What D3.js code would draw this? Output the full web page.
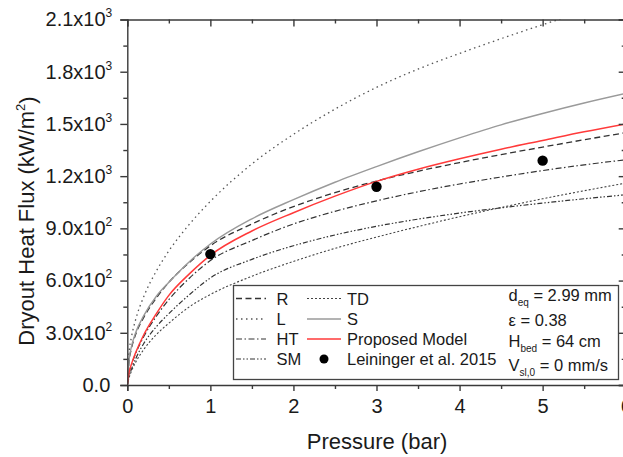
<!DOCTYPE html>
<html>
<head>
<meta charset="utf-8">
<script src="https://cdn.jsdelivr.net/npm/d3@7"></script>
<style>
  html, body { margin: 0; padding: 0; background: #fff; }
  svg { display: block; }
  text { font-family: Arial, "Liberation Sans", sans-serif; fill: #1a1a1a; }
</style>
</head>
<body>
<div id="chart"></div>
<script>
// Pressure grid (bar) shared by all correlation curves
const pressure = [0, 0.02, 0.05, 0.1, 0.2, 0.35, 0.5, 0.75, 1, 1.5, 2, 2.5, 3, 3.5, 4, 4.5, 5, 5.5, 6];

// Dryout heat flux (kW/m^2) for each model
const fluxR        = [0, 130, 210, 290, 390, 500, 590, 705, 800, 925, 1025, 1105, 1172, 1228, 1278, 1324, 1367, 1409, 1450];
const fluxL        = [0, 180, 275, 375, 510, 655, 770, 925, 1055, 1270, 1440, 1585, 1710, 1815, 1905, 1990, 2070, 2145, 2215];
const fluxHT       = [0, 65, 115, 180, 280, 395, 490, 615, 715, 830, 925, 998, 1058, 1110, 1155, 1195, 1232, 1265, 1294];
const fluxSM       = [0, 50, 90, 150, 240, 335, 410, 520, 615, 722, 800, 862, 912, 953, 988, 1018, 1045, 1070, 1093];
const fluxTD       = [0, 40, 80, 130, 205, 290, 355, 450, 520, 625, 710, 785, 850, 910, 967, 1020, 1070, 1116, 1160];
const fluxS        = [0, 140, 220, 300, 400, 510, 590, 710, 810, 955, 1065, 1165, 1255, 1340, 1420, 1495, 1560, 1620, 1675];
const fluxProposed = [0, 70, 120, 185, 290, 410, 515, 640, 745, 885, 990, 1085, 1170, 1240, 1300, 1355, 1405, 1455, 1500];

// Experimental data
const expPressure = [1, 3, 5];
const expFlux     = [752, 1139, 1289];

// Axis ticks
const xTickValues   = [0, 1, 2, 3, 4, 5, 6];
const xTickLabels   = ["0", "1", "2", "3", "4", "5", "6"];
const yTickValues   = [0, 300, 600, 900, 1200, 1500, 1800, 2100];
const yTickMantissa = ["0.0", "3.0", "6.0", "9.0", "1.2", "1.5", "1.8", "2.1"];
const yTickExponent = ["", "2", "2", "2", "3", "3", "3", "3"];

const W = 623, H = 457;
const x = d3.scaleLinear().domain([0, 6]).range([127.3, 625.7]);
const y = d3.scaleLinear().domain([0, 2100]).range([385, 19.5]);

const svg = d3.select("#chart").append("svg").attr("width", W).attr("height", H);

svg.append("defs").append("clipPath").attr("id", "plotClip")
  .append("rect")
  .attr("x", x(0)).attr("y", y(2100))
  .attr("width", x(6) - x(0)).attr("height", y(0) - y(2100));

// Series styles
const series = [
  { name: "R",  values: fluxR,  color: "#333", width: 1.3, dash: "6,3.5" },
  { name: "L",  values: fluxL,  color: "#555", width: 1.3, dash: "1.5,3.5" },
  { name: "HT", values: fluxHT, color: "#333", width: 1.2, dash: "6,2.5,1.5,2.5" },
  { name: "SM", values: fluxSM, color: "#333", width: 1.2, dash: "5,2,1.5,2,1.5,2" },
  { name: "TD", values: fluxTD, color: "#444", width: 1.1, dash: "2,2" },
  { name: "S",  values: fluxS,  color: "#9a9a9a", width: 1.4, dash: null },
  { name: "Proposed Model", values: fluxProposed, color: "#ff3a3a", width: 1.5, dash: null }
];

const line = d3.line()
  .x(d => x(d[0]))
  .y(d => y(d[1]))
  .curve(d3.curveMonotoneX);

const plot = svg.append("g").attr("clip-path", "url(#plotClip)");
series.forEach(s => {
  plot.append("path")
    .datum(pressure.map((p, i) => [p, s.values[i]]))
    .attr("fill", "none")
    .attr("stroke", s.color)
    .attr("stroke-width", s.width)
    .attr("stroke-dasharray", s.dash)
    .attr("d", line);
});

plot.selectAll("circle.exp")
  .data(expPressure.map((p, i) => [p, expFlux[i]]))
  .enter().append("circle")
  .attr("class", "exp")
  .attr("cx", d => x(d[0]))
  .attr("cy", d => y(d[1]))
  .attr("r", 5.2)
  .attr("fill", "#000");

// Axes
const axisColor = "#3a3a3a";
function styleAxis(g) {
  g.select(".domain").attr("stroke", axisColor).attr("stroke-width", 1.4);
  g.selectAll(".tick line").attr("stroke", axisColor).attr("stroke-width", 1.4);
}
const xMinor = d3.range(0.5, 6, 1);
const yMinor = d3.range(150, 2100, 300);

// bottom
const gx = svg.append("g").attr("transform", `translate(0,${y(0)})`)
  .call(d3.axisBottom(x).tickValues(xTickValues).tickSize(6).tickPadding(8)
    .tickFormat((d, i) => xTickLabels[i]));
gx.call(styleAxis);
gx.selectAll(".tick text").attr("font-size", 20).attr("fill", "#1a1a1a")
  .attr("font-family", "Arial, 'Liberation Sans', sans-serif");
svg.append("g").attr("transform", `translate(0,${y(0)})`)
  .call(d3.axisBottom(x).tickValues(xMinor).tickSize(4).tickFormat(""))
  .call(styleAxis).select(".domain").remove();

// top
svg.append("g").attr("transform", `translate(0,${y(2100)})`)
  .call(d3.axisBottom(x).tickValues(xTickValues).tickSize(7).tickFormat(""))
  .call(styleAxis);
svg.append("g").attr("transform", `translate(0,${y(2100)})`)
  .call(d3.axisBottom(x).tickValues(xMinor).tickSize(4).tickFormat(""))
  .call(styleAxis).select(".domain").remove();

// left
const gy = svg.append("g").attr("transform", `translate(${x(0)},0)`)
  .call(d3.axisLeft(y).tickValues(yTickValues).tickSize(7).tickPadding(10));
gy.call(styleAxis);
gy.selectAll(".tick text").each(function(d, i) {
  const t = d3.select(this).text(null)
    .attr("font-size", 20).attr("fill", "#1a1a1a")
    .attr("font-family", "Arial, 'Liberation Sans', sans-serif");
  if (yTickExponent[i]) {
    t.append("tspan").text(yTickMantissa[i] + "x10");
    t.append("tspan").attr("font-size", 12).attr("dy", "-0.75em").text(yTickExponent[i]);
  } else {
    t.append("tspan").text(yTickMantissa[i]);
  }
});
gy.selectAll(".tick text").attr("dx", d => d === 0 ? 0 : 2);
svg.append("g").attr("transform", `translate(${x(0)},0)`)
  .call(d3.axisLeft(y).tickValues(yMinor).tickSize(4).tickFormat(""))
  .call(styleAxis).select(".domain").remove();

// right
svg.append("g").attr("transform", `translate(${x(6)},0)`)
  .call(d3.axisRight(y).tickValues(yTickValues).tickSize(-7).tickFormat(""))
  .call(styleAxis);
svg.append("g").attr("transform", `translate(${x(6)},0)`)
  .call(d3.axisRight(y).tickValues(yMinor).tickSize(-4).tickFormat(""))
  .call(styleAxis).select(".domain").remove();

// Axis titles
svg.append("text")
  .attr("x", 377).attr("y", 449)
  .attr("text-anchor", "middle").attr("font-size", 22)
  .text("Pressure (bar)");

const yt = svg.append("text")
  .attr("transform", "translate(34,221) rotate(-90)")
  .attr("text-anchor", "middle").attr("font-size", 22);
yt.append("tspan").text("Dryout Heat Flux (kW/m");
yt.append("tspan").attr("font-size", 13).attr("dy", "-0.7em").text("2");
yt.append("tspan").attr("dy", "0.45em").text(")");

// Legend
const lg = svg.append("g");
lg.append("rect")
  .attr("x", 233.5).attr("y", 285.5).attr("width", 385).attr("height", 94)
  .attr("fill", "#fff").attr("stroke", "#444").attr("stroke-width", 1.3);

const legendRows = [298.5, 319, 339, 359];
const legendItems = [
  { s: series[0], col: 0, row: 0 },
  { s: series[1], col: 0, row: 1 },
  { s: series[2], col: 0, row: 2 },
  { s: series[3], col: 0, row: 3 },
  { s: series[4], col: 1, row: 0 },
  { s: series[5], col: 1, row: 1 },
  { s: series[6], col: 1, row: 2 }
];
const colX = [[236, 266, 276.5], [307, 341, 347]];
legendItems.forEach(it => {
  const c = colX[it.col], yy = legendRows[it.row];
  lg.append("line")
    .attr("x1", c[0]).attr("x2", c[1]).attr("y1", yy).attr("y2", yy)
    .attr("stroke", it.s.color).attr("stroke-width", it.s.width)
    .attr("stroke-dasharray", it.s.dash);
  lg.append("text").attr("x", c[2]).attr("y", yy + 6)
    .attr("font-size", 16.5).text(it.s.name);
});
// experimental marker entry
lg.append("circle").attr("cx", 324).attr("cy", legendRows[3]).attr("r", 4.5).attr("fill", "#000");
lg.append("text").attr("x", 347).attr("y", legendRows[3] + 6)
  .attr("font-size", 16.5).text("Leininger et al. 2015");

// Bed parameters
const params = [
  { main: "d", sub: "eq", rest: " = 2.99 mm", y: 301 },
  { main: "ε", sub: "", rest: " = 0.38", y: 326 },
  { main: "H", sub: "bed", rest: " = 64 cm", y: 347 },
  { main: "V", sub: "sl,0", rest: " = 0 mm/s", y: 371 }
];
params.forEach(p => {
  const t = lg.append("text").attr("x", 508.5).attr("y", p.y).attr("font-size", 16.5);
  t.append("tspan").text(p.main);
  if (p.sub) {
    t.append("tspan").attr("font-size", 10).attr("dy", 5).text(p.sub);
    t.append("tspan").attr("dy", -5).text(p.rest);
  } else {
    t.append("tspan").text(p.rest);
  }
});
</script>
</body>
</html>
